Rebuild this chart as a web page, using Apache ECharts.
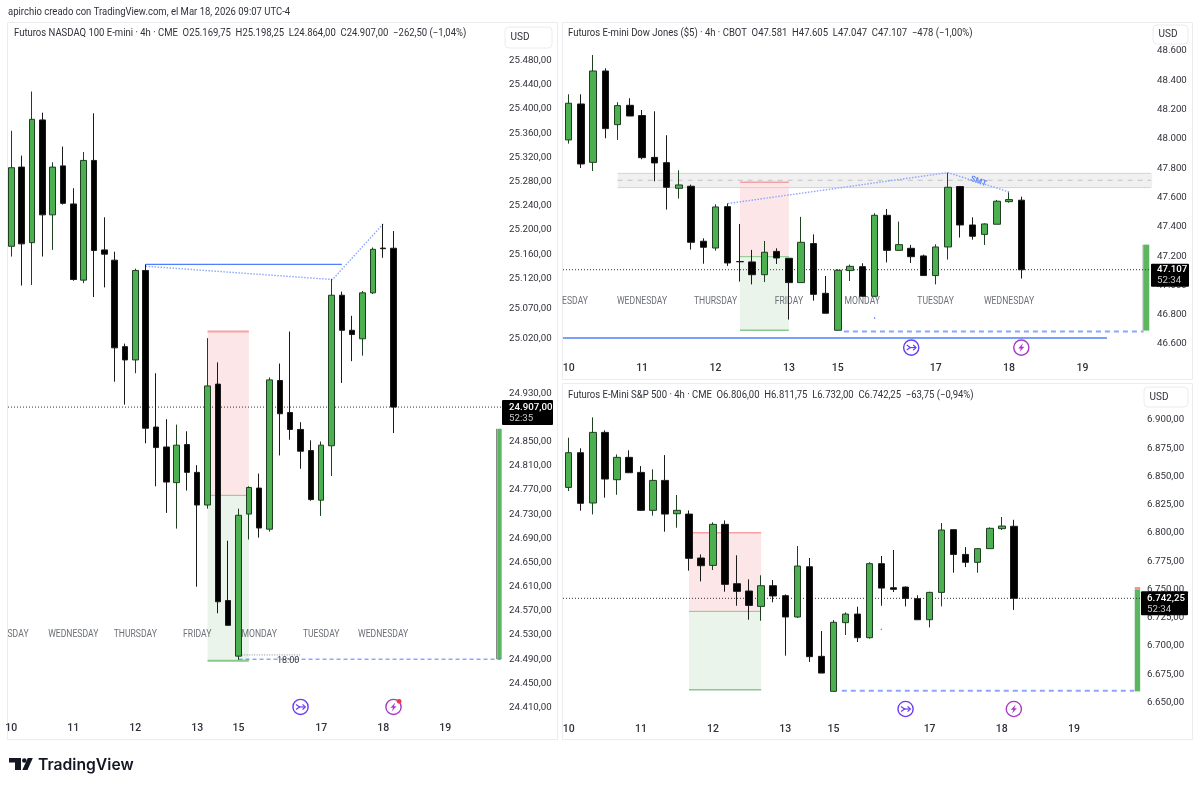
<!DOCTYPE html>
<html>
<head>
<meta charset="utf-8">
<style>html,body{margin:0;padding:0;background:#fff}#chart{width:1200px;height:788px}</style>
<script src="https://cdn.jsdelivr.net/npm/echarts@6/dist/echarts.min.js"></script>
</head>
<body>
<div id="chart"></div>
<script>
// 4h futures candles, one bar per array slot, oldest first
const nqOpen  = [25173,25304,25179,25382,25225,25306,25243,25117,25315,25167,25150,25007,24985,25133,24874,24841,24782,24845,24799,24745,24945,24587,24495,24730,24773,24705,24951,24898,24870,24835,24753,24843,25092,25034,25020,25096,25170,25169.75];
const nqClose = [25303,25177,25383,25225,25304,25244,25118,25315,25166,25160,25005,24985,25133,24872,24840,24783,24844,24799,24745,24942,24585,24546,24728,24774,24707,24952,24896,24870,24834,24754,24844,25092,25034,25027,25096,25168,25169,24907];
const nqHigh  = [25364,25323,25429,25394,25312,25338,25269,25329,25393,25221,25164,25012,25136,25143,24963,24887,24878,24867,24811,25021,24981,24686,24739,24776,24797,24956,24979,25032,24882,24852,24850,25119,25098,25058,25099,25171,25210,25198.25];
const nqLow   = [25156,25108,25109,25156,25167,25242,25116,25112,25089,25105,24949,24911,24963,24847,24776,24732,24706,24769,24610,24739,24566,24546,24489,24688,24691,24701,24827,24853,24805,24752,24727,24793,24947,24983,24992,25094,25154,24864];

const ymOpen  = [47992,48237,47839,48462,48096,48228,48158,47873,47837,47662,47676,47301,47255,47537,47163,47160,47073,47232,47185,47019,47285,46946,46694,47101,47128,46926,47478,47239,47253,47201,47067,47262,47674,47412,47348,47417,47571,47581];
const ymClose = [48242,47828,48462,48069,48226,48155,47871,47835,47669,47685,47294,47260,47535,47153,47161,47073,47226,47187,47019,47294,46939,46810,47103,47130,46926,47478,47239,47278,47196,47067,47262,47669,47412,47335,47419,47574,47585,47107];
const ymHigh  = [48303,48303,48571,48480,48249,48276,48196,48187,48024,47785,47687,47321,47553,47560,47419,47242,47303,47253,47187,47467,47348,47064,47110,47142,47151,47492,47521,47435,47276,47210,47280,47769,47678,47464,47423,47583,47637,47605];
const ymLow   = [47967,47801,47780,48003,47992,48155,47860,47710,47517,47592,47244,47148,47237,47133,47026,47007,47023,47146,46767,47019,46896,46810,46694,47030,46923,46923,47157,47239,47153,47067,47007,47176,47326,47312,47276,47417,47564,47047];

const esOpen  = [6840.4,6871.1,6826.6,6889.1,6847.2,6867,6853.7,6820.1,6846.6,6817.1,6816.8,6777.9,6771.4,6807.7,6755.2,6748.7,6735.1,6753.4,6744.6,6725.7,6770.2,6690.9,6659.9,6720.7,6728.3,6707.4,6772.9,6751.6,6752.2,6741.9,6723.3,6747.5,6803,6781.1,6774.1,6786.2,6803.9,6806];
const esClose = [6871.1,6826.3,6889.1,6847.8,6867,6853.4,6820.1,6846.6,6816.8,6820.1,6777.6,6771.1,6807.7,6754.6,6748.4,6736,6753.4,6744.3,6725.7,6770.8,6690.6,6676.1,6721,6728.3,6707.4,6772.9,6751.3,6750.2,6742.2,6723.3,6747.5,6802.7,6781.1,6774.1,6786.2,6804.2,6806.2,6742.25];
const esHigh  = [6884.4,6875,6902.4,6890.9,6869.6,6873.2,6859.3,6856.4,6869,6833.7,6820.1,6781.1,6809.5,6811.2,6780.3,6759,6762.6,6758.4,6745.7,6788.5,6777.9,6713.3,6723,6729.8,6734.8,6774.1,6779.7,6785,6752.8,6744.9,6748.1,6808.9,6803.3,6787.6,6786.5,6805,6814.2,6811.75];
const esLow   = [6837.2,6819.8,6816.5,6831.3,6833.9,6853.4,6819.5,6815.4,6801.2,6804.7,6766.7,6757.2,6767.3,6748.1,6735.7,6723.3,6722.4,6738.7,6691.5,6724.8,6685.9,6676.1,6659.9,6709.8,6703.6,6706.5,6735.7,6747.8,6735.1,6723.3,6716.5,6735.1,6764.9,6769.9,6764.9,6786.2,6802.7,6732];

// Price scale ticks
const nqTicks = [25480,25440,25400,25360,25320,25280,25240,25200,25160,25120,25070,25020,24930,24850,24810,24770,24730,24690,24650,24610,24570,24530,24490,24450,24410];
const ymTicks = [48600,48400,48200,48000,47800,47600,47400,47200,47000,46800,46600];
const esTicks = [6900,6875,6850,6825,6800,6775,6750,6725,6700,6675,6650];

// Time scale: bar index of each day label
const dayBars   = [0,6,12,18,22,30,36,42];
const dayLabels = ['10','11','12','13','15','17','18','19'];

// Weekday captions: bar index and caption text
const sessionBars   = [6,12,18,24,30,36];
const sessionLabels = ['WEDNESDAY','THURSDAY','FRIDAY','MONDAY','TUESDAY','WEDNESDAY'];

// Drawings, in [bar, price]
const nqLevel      = [[13,25143],[32,25143]];
const nqSwing      = [[13,25140],[31.1,25118],[36,25210]];
const nqStopRow    = [19,23,25032,24761];
const nqTargetRow  = [19,23,24761,24487.5];
const nqSweep      = [[22,24490],[47.4,24490]];
const nqSession    = [[22.3,24497],[27.95,24497]];
const nqRangeBar   = [47.08,47.47,24871,24490];

const ymZone       = [4,47.7,47764,47667];
const ymZoneMid    = [[4,47717],[47.7,47717]];
const ymStopRow    = [14,18,47703,47196];
const ymTargetRow  = [14,18,47196,46694];
const ymSwing      = [[13,47558],[31,47769],[36,47637]];
const ymSweep      = [[22.5,46685],[47,46685]];
const ymLevel      = [[-0.47,46641],[44,46641]];
const ymRangeBar   = [47,47.46,47278,46692];
const ymMarkDot    = [24.96,25.06,46783,46773];

const esStopRow    = [10,16,6800.3,6730.7];
const esTargetRow  = [10,16,6730.7,6661.4];
const esSweep      = [[22.7,6660.5],[47,6660.5]];
const esRangeBar   = [47.05,47.5,6750.2,6659.9];
const esRangeCap   = [47.05,47.5,6752.2,6750.2];
const esMarkDot    = [25.94,26.04,6715.4,6714.2];

const panels = [
  { open:nqOpen, close:nqClose, high:nqHigh, low:nqLow, ticks:nqTicks, decimals:2,
    left:8, top:22, width:495, height:694, xMin:-0.32, xMax:47.6, yMin:24396, yMax:25544,
    barWidth:6, labelMargin:7, axisMargin:6, labelShift:4, countdown:'52:35', tag:[-1,-7,51,25], tagText:6 },
  { open:ymOpen, close:ymClose, high:ymHigh, low:ymLow, ticks:ymTicks, decimals:0,
    left:563, top:22, width:587, height:336, xMin:-0.466, xMax:47.52, yMin:46505, yMax:48796,
    barWidth:7, labelMargin:5, axisMargin:7, labelShift:2, countdown:'52:34', tag:[1,-6,38,23], tagText:7 },
  { open:esOpen, close:esClose, high:esHigh, low:esLow, ticks:esTicks, decimals:2,
    left:563, top:383, width:578, height:333, xMin:-0.474, xMax:47.57, yMin:6638.1, yMax:6932.8,
    barWidth:7, labelMargin:8, axisMargin:6, labelShift:0, countdown:'52:34', tag:[0,-7,47,24], tagText:6 }
];

const FONT = 'Roboto, "Noto Sans", sans-serif';
const TEXT = '#2f323a';
const BLUE = '#4f7fff';
const SOFT_BLUE = '#8aa6ff';

function priceLabel(v, decimals) {
  const parts = v.toFixed(decimals).split('.');
  const whole = parts[0].replace(/\B(?=(\d{3})+$)/g, '.');
  return decimals ? whole + ',' + parts[1] : whole;
}

const grid = [], xAxis = [], yAxis = [], series = [];

function lineOn(p, data, color, width, type, z) {
  series.push({ type:'line', xAxisIndex:p, yAxisIndex:p, data, symbol:'none', silent:true, animation:false,
    lineStyle:{ color, width, type }, z: z == null ? 1 : z });
}

function rectOn(p, bounds, fill, z) {
  series.push({ type:'custom', xAxisIndex:p, yAxisIndex:p, silent:true, animation:false, z: z == null ? 0 : z,
    encode:{ x:[0,1], y:[2,3] }, data:[bounds],
    renderItem(params, api) {
      const a = api.coord([api.value(0), api.value(2)]);
      const b = api.coord([api.value(1), api.value(3)]);
      return { type:'rect', shape:{ x:a[0], y:a[1], width:b[0]-a[0], height:b[1]-a[1] }, style:{ fill } };
    } });
}

function textOn(p, bars, price, labels, style, z) {
  series.push({ type:'custom', xAxisIndex:p, yAxisIndex:p, silent:true, animation:false, z: z == null ? 1 : z,
    encode:{ x:0, y:1 }, data:bars.map((b, i) => [b, Array.isArray(price) ? price[i] : price]),
    renderItem(params, api) {
      const pt = api.coord([api.value(0), api.value(1)]);
      return { type:'text', x:pt[0], y:pt[1], rotation:style.rotation || 0, scaleX:style.scaleX || 1,
        style:{ text:labels[params.dataIndex], fill:style.fill, font:style.font, align:'center', verticalAlign:'middle' } };
    } });
}

function iconOn(p, bar, price, kind, dot) {
  const color = kind === 'event' ? '#6b3cf2' : '#a63bc4';
  series.push({ type:'custom', xAxisIndex:p, yAxisIndex:p, silent:true, animation:false, z:4,
    encode:{ x:0, y:1 }, data:[[bar, price]],
    renderItem(params, api) {
      const pt = api.coord([api.value(0), api.value(1)]);
      const children = [{ type:'circle', shape:{ cx:0, cy:0, r:7.6 }, style:{ fill:'#fff', stroke:color, lineWidth:1.4 } }];
      if (kind === 'event') {
        children.push({ type:'polyline', shape:{ points:[[-4.5,-2.5],[-1,0],[-4.5,2.5]] }, style:{ fill:'none', stroke:color, lineWidth:1.2 } });
        children.push({ type:'polyline', shape:{ points:[[-2,0],[4.5,0]] }, style:{ fill:'none', stroke:color, lineWidth:1.2 } });
        children.push({ type:'polyline', shape:{ points:[[2,-2.6],[4.8,0],[2,2.6]] }, style:{ fill:'none', stroke:color, lineWidth:1.2 } });
      } else {
        children.push({ type:'polygon', shape:{ points:[[1.8,-4.5],[-3,0.8],[-0.4,0.8],[-1.8,4.5],[3,-0.8],[0.4,-0.8]] }, style:{ fill:color } });
      }
      if (dot) children.push({ type:'circle', shape:{ cx:5.6, cy:-5.6, r:2.4 }, style:{ fill:'#f23645' } });
      return { type:'group', x:pt[0], y:pt[1], children };
    } });
}

panels.forEach((d, p) => {
  grid.push({ left:d.left, top:d.top, width:d.width, height:d.height, containLabel:false });
  xAxis.push({ type:'value', gridIndex:p, min:d.xMin, max:d.xMax, splitLine:{ show:false },
    axisLine:{ show:false }, axisTick:{ show:false },
    axisLabel:{ customValues:dayBars, formatter:v => dayLabels[dayBars.indexOf(v)], margin:d.labelMargin, fontFamily:FONT, fontSize:10.5, fontWeight:500, color:TEXT, showMinLabel:true, showMaxLabel:true, hideOverlap:false } });
  yAxis.push({ type:'value', gridIndex:p, position:'right', min:d.yMin, max:d.yMax, scale:true, splitLine:{ show:false },
    axisLine:{ show:false }, axisTick:{ show:false },
    axisLabel:{ customValues:d.ticks, formatter:v => priceLabel(v, d.decimals), margin:d.axisMargin, fontFamily:FONT, fontSize:9.7, color:TEXT, hideOverlap:false, padding:[d.labelShift,0,0,0] } });

  // Candles
  series.push({ type:'candlestick', xAxisIndex:p, yAxisIndex:p, barWidth:d.barWidth, z:2, silent:true, animation:false,
    data:d.open.map((o, i) => [i, o, d.close[i], d.low[i], d.high[i]]),
    itemStyle:{ color:'#4caf50', color0:'#000000', borderColor:'#1f3f22', borderColor0:'#1a1a1a', borderWidth:1 } });

  // Last price guide
  const last = d.close[d.close.length - 1];
  lineOn(p, [[d.xMin, last],[d.xMax, last]], '#333333', 1, [1,2], 1);

  // Last price tag with countdown
  series.push({ type:'custom', xAxisIndex:p, yAxisIndex:p, silent:true, animation:false, z:6,
    encode:{ x:0, y:1 }, data:[[d.xMax, last]],
    renderItem(params, api) {
      const pt = api.coord([api.value(0), api.value(1)]);
      const [dx, dy, w, h] = d.tag;
      return { type:'group', x:pt[0], y:pt[1], children:[
        { type:'rect', shape:{ x:dx, y:dy, width:w, height:h, r:1 }, style:{ fill:'#000' } },
        { type:'text', x:d.tagText, y:0, style:{ text:priceLabel(last, d.decimals), fill:'#fff', font:'500 9.7px ' + FONT, verticalAlign:'middle' } },
        { type:'text', x:d.tagText, y:11, style:{ text:d.countdown, fill:'#c9c9c9', font:'9.7px ' + FONT, verticalAlign:'middle' } }
      ] };
    } });
});

const SESSION_STYLE = { fill:'#6d7079', font:'10px ' + FONT, scaleX:0.86 };
const STOP_FILL = '#fde6e7', TARGET_FILL = '#eaf4ea', STOP_LINE = '#f7a0a4', TARGET_LINE = '#86c98a';
const BAR_GREEN = '#5cb660', BAR_EDGE = '#8a8a8a';

// Nasdaq drawings
rectOn(0, nqStopRow, STOP_FILL);
rectOn(0, nqTargetRow, TARGET_FILL);
lineOn(0, [[19,25032],[23,25032]], STOP_LINE, 2, 'solid');
lineOn(0, [[19,24761],[23,24761]], TARGET_LINE, 1, 'solid');
lineOn(0, [[19,24487.5],[23,24487.5]], TARGET_LINE, 2, 'solid');
lineOn(0, nqLevel, BLUE, 1.4, 'solid');
lineOn(0, nqSwing, SOFT_BLUE, 1.4, [1.5,1.5]);
lineOn(0, nqSweep, BLUE, 1, [4,3]);
lineOn(0, nqSession, '#8a8a8a', 1, [1,1.5]);
rectOn(0, [46.92,47.08,24871,24490], BAR_EDGE, 1);
rectOn(0, nqRangeBar, BAR_GREEN, 1);
textOn(0, [0.65].concat(sessionBars), 24530, ['SDAY'].concat(sessionLabels), SESSION_STYLE);
textOn(0, [26.8], 24487, ['18:00'], { fill:'#333', font:'9px ' + FONT }, 3);
iconOn(0, 28, 24411, 'event', false);
iconOn(0, 37, 24411, 'bolt', true);

// Dow drawings
rectOn(1, ymZone, '#f0f0f1');
lineOn(1, [[4,47764],[47.7,47764]], '#d4d4d6', 1, 'solid');
lineOn(1, [[4,47667],[47.7,47667]], '#d4d4d6', 1, 'solid');
lineOn(1, ymZoneMid, '#c2c2c4', 1, [5,5]);
rectOn(1, ymStopRow, STOP_FILL, 0);
rectOn(1, ymTargetRow, TARGET_FILL, 0);
lineOn(1, [[14,47703],[18,47703]], STOP_LINE, 1.5, 'solid');
lineOn(1, [[14,47196],[18,47196]], TARGET_LINE, 1, 'solid');
lineOn(1, [[14,46694],[18,46694]], TARGET_LINE, 1.5, 'solid');
lineOn(1, ymSwing, SOFT_BLUE, 1.4, [1.5,1.5], 3);
lineOn(1, ymSweep, SOFT_BLUE, 2, [5,4]);
lineOn(1, ymLevel, BLUE, 1.4, 'solid');
rectOn(1, [46.92,47,47278,46692], BAR_EDGE, 1);
rectOn(1, ymRangeBar, BAR_GREEN, 1);
rectOn(1, ymMarkDot, BLUE, 1);
textOn(1, [0.52].concat(sessionBars), 46893, ['ESDAY'].concat(sessionLabels), SESSION_STYLE);
textOn(1, [33.5], 47708, ['SMT'], { fill:'#5a85ff', font:'bold 8px ' + FONT, rotation:-0.35 }, 3);
iconOn(1, 28, 46576, 'event', false);
iconOn(1, 37, 46576, 'bolt', false);

// S&P drawings
rectOn(2, esStopRow, STOP_FILL);
rectOn(2, esTargetRow, TARGET_FILL);
lineOn(2, [[10,6800.3],[16,6800.3]], STOP_LINE, 1.5, 'solid');
lineOn(2, [[10,6730.7],[16,6730.7]], TARGET_LINE, 1, 'solid');
lineOn(2, [[10,6661.4],[16,6661.4]], TARGET_LINE, 1.5, 'solid');
lineOn(2, esSweep, SOFT_BLUE, 2, [5,4]);
rectOn(2, esRangeBar, BAR_GREEN, 1);
rectOn(2, esRangeCap, '#f1908f', 1);
rectOn(2, esMarkDot, BLUE, 1);
iconOn(2, 28, 6644.3, 'event', false);
iconOn(2, 37, 6644.3, 'bolt', false);

function frame(x, y, w, h) {
  return { type:'rect', shape:{ x, y, width:w, height:h }, style:{ fill:'none', stroke:'#ececee', lineWidth:1 }, silent:true };
}
function unitButton(x, y, w, h, cx) {
  return [
    { type:'rect', z:8, shape:{ x, y, width:w, height:h, r:4 }, style:{ fill:'#fff', stroke:'#ececee', lineWidth:1 }, silent:true },
    { type:'text', z:9, x:cx, y:y + h / 2, style:{ text:'USD', fill:TEXT, font:'10px ' + FONT, align:'center', verticalAlign:'middle' }, silent:true }
  ];
}
function headline(text, x, y) {
  return { type:'text', x, y, scaleX:0.905, z:9, silent:true,
    style:{ text, fill:TEXT, font:'10.5px ' + FONT, verticalAlign:'middle' } };
}

// Brand mark under the charts
const brand = [
  { type:'polygon', shape:{ points:[[9,758],[21,758],[21,770],[15,770],[15,762.5],[9,762.5]] }, style:{ fill:'#131722' }, silent:true },
  { type:'circle', shape:{ cx:24.3, cy:760.5, r:2.3 }, style:{ fill:'#131722' }, silent:true },
  { type:'polygon', shape:{ points:[[27.8,758],[32.8,758],[27.5,770],[22.3,770]] }, style:{ fill:'#131722' }, silent:true },
  { type:'text', x:38, y:765, style:{ text:'TradingView', fill:'#131722', font:'600 15.7px Inter, ' + FONT, verticalAlign:'middle' }, silent:true }
];

const chart = echarts.init(document.getElementById('chart'), null, { renderer:'canvas' });
chart.setOption({
  animation:false,
  backgroundColor:'#ffffff',
  grid, xAxis, yAxis, series,
  graphic:{ elements:[
    frame(7.5, 22.5, 550, 717), frame(562.5, 22.5, 630, 357), frame(562.5, 383.5, 630, 356),
    headline('apirchio creado con TradingView.com, el Mar 18, 2026 09:07 UTC-4', 8, 12.5),
    headline('Futuros NASDAQ 100 E-mini · 4h · CME  O25.169,75  H25.198,25  L24.864,00  C24.907,00  −262,50 (−1,04%)', 14, 33),
    headline('Futuros E-mini Dow Jones ($5) · 4h · CBOT  O47.581  H47.605  L47.047  C47.107  −478 (−1,00%)', 568, 33),
    headline('Futuros E-Mini S&P 500 · 4h · CME  O6.806,00  H6.811,75  L6.732,00  C6.742,25  −63,75 (−0,94%)', 568, 395),
    ...unitButton(505, 27, 47, 21, 520),
    ...unitButton(1153, 25, 35, 19, 1168),
    ...unitButton(1144, 387, 44, 20, 1159),
    ...brand
  ] }
});
</script>
</body>
</html>
